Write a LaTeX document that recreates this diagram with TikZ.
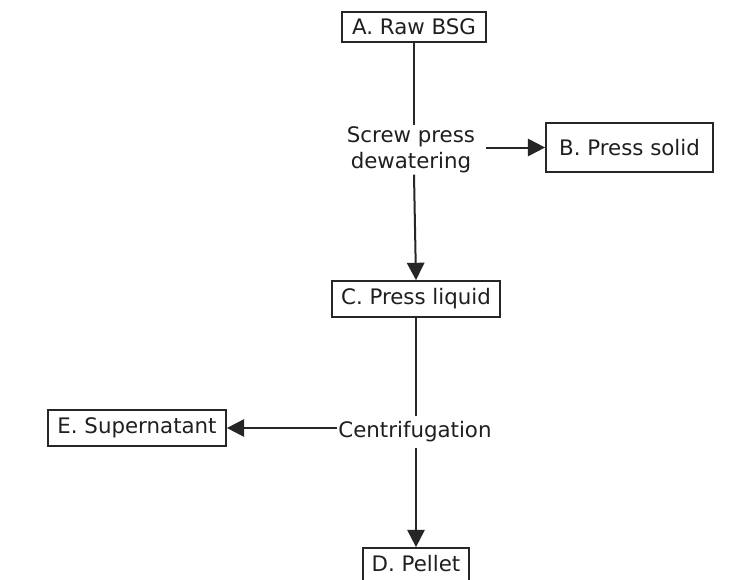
\documentclass[tikz,border=0pt]{standalone}
\usepackage{fontspec}
\setmainfont{DejaVu Sans}
\usetikzlibrary{arrows.meta}
\begin{document}
\begin{tikzpicture}[x=0.75pt,y=-0.75pt,
  box/.style={draw=black!85, line width=1.3pt, inner sep=0pt,
    font=\fontsize{16}{19.5}\selectfont, text=black!88, text height=11.7pt},
  lbl/.style={inner sep=0pt, font=\fontsize{16}{19.5}\selectfont, text=black!88},
  plain/.style={draw=black!85, line width=1.5pt},
  flow/.style={plain, -{Triangle[length=13pt,width=13pt]}}]
\useasboundingbox (0,0) rectangle (739,579);
\fill[white] (0,0) rectangle (739,579);
\clip (0,0) rectangle (739,579);
\node[box, minimum width=108pt, minimum height=22.5pt, text depth=0pt] (A) at (414,27) {A. Raw BSG};
\node[lbl, align=center, inner ysep=1pt, inner xsep=8pt] (sp) at (411,150) {Screw press\\dewatering};
\node[box, minimum width=125.25pt, minimum height=36.75pt, text depth=0pt] (B) at (629.5,147.5) {B. Press solid};
\node[box, minimum width=126pt, minimum height=27pt, text depth=3.5pt] (C) at (416,299) {C. Press liquid};
\node[lbl, anchor=base, inner ysep=4pt, inner xsep=1pt] (cf) at (415,437.7) {Centrifugation};
\node[box, minimum width=133.5pt, minimum height=27pt, text depth=3.5pt] (E) at (137,428) {E. Supernatant};
\node[box, minimum width=79.5pt, minimum height=27pt, text depth=3.5pt] (D) at (416,566) {D. Pellet};
\draw[plain] (A.south) -- (A.south |- sp.north);
\draw[flow] (A.south |- sp.south) -- (C.north);
\draw[flow] (sp.east |- B.west) -- (B.west);
\draw[plain] (C.south) -- (C.south |- cf.north);
\draw[flow] (C.south |- cf.south) -- (D.north);
\draw[flow] (E.east -| cf.west) -- (E.east);
\end{tikzpicture}
\end{document}
